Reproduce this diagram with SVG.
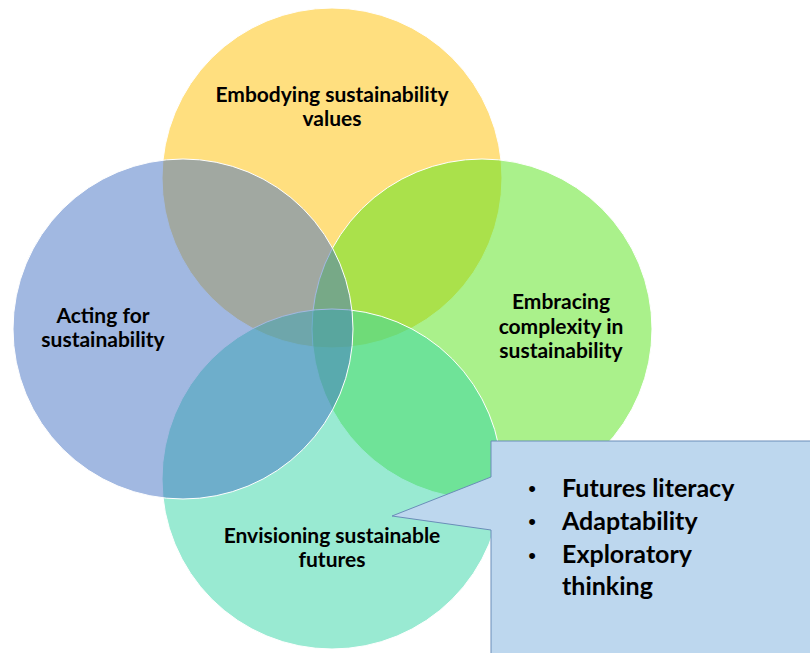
<svg xmlns="http://www.w3.org/2000/svg" width="810" height="653" viewBox="0 0 810 653">
<style>
.c{stroke:#ffffff;stroke-width:1;fill-opacity:0.5}
.t{font-family:Lato,"Open Sans","Liberation Sans",sans-serif;font-weight:bold;font-size:21px;fill:#000;text-anchor:middle}
.b{font-family:Lato,"Open Sans","Liberation Sans",sans-serif;font-weight:bold;font-size:25px;fill:#000}
.d{font-family:"Liberation Sans",sans-serif;font-size:22px;fill:#000;text-anchor:middle}
</style>
<rect width="810" height="653" fill="#ffffff"/>
<g id="node-embodying">
<circle class="c" cx="332" cy="178" r="170" fill="#FFC000"/>
</g>
<g id="node-embracing">
<circle class="c" cx="482" cy="329" r="170" fill="#55E317"/>
</g>
<g id="node-envisioning">
<circle class="c" cx="332" cy="479" r="170" fill="#33D5A5"/>
</g>
<g id="node-acting">
<circle class="c" cx="183" cy="329" r="170" fill="#4472C4"/>
</g>
<g id="labels">
<text class="t" x="332" y="102">Embodying sustainability</text>
<text class="t" x="332" y="126">values</text>
<text class="t" x="103" y="323">Acting for</text>
<text class="t" x="103" y="347">sustainability</text>
<text class="t" x="561" y="309">Embracing</text>
<text class="t" x="561" y="334">complexity in</text>
<text class="t" x="561" y="358">sustainability</text>
<text class="t" x="332" y="543">Envisioning sustainable</text>
<text class="t" x="332" y="567">futures</text>
</g>
<g id="connectors"></g>
<g id="node-callout">
<path d="M491,441 H811 V654 H491 V530 L392,516 L491,477 Z" fill="#BDD7EE" stroke="#6A8DB8" stroke-width="1"/>
<text class="d" x="532" y="496">•</text>
<text class="b" x="562" y="497">Futures literacy</text>
<text class="d" x="532" y="529">•</text>
<text class="b" x="562" y="530">Adaptability</text>
<text class="d" x="532" y="563">•</text>
<text class="b" x="562" y="563">Exploratory</text>
<text class="b" x="562" y="595">thinking</text>
</g>
</svg>
